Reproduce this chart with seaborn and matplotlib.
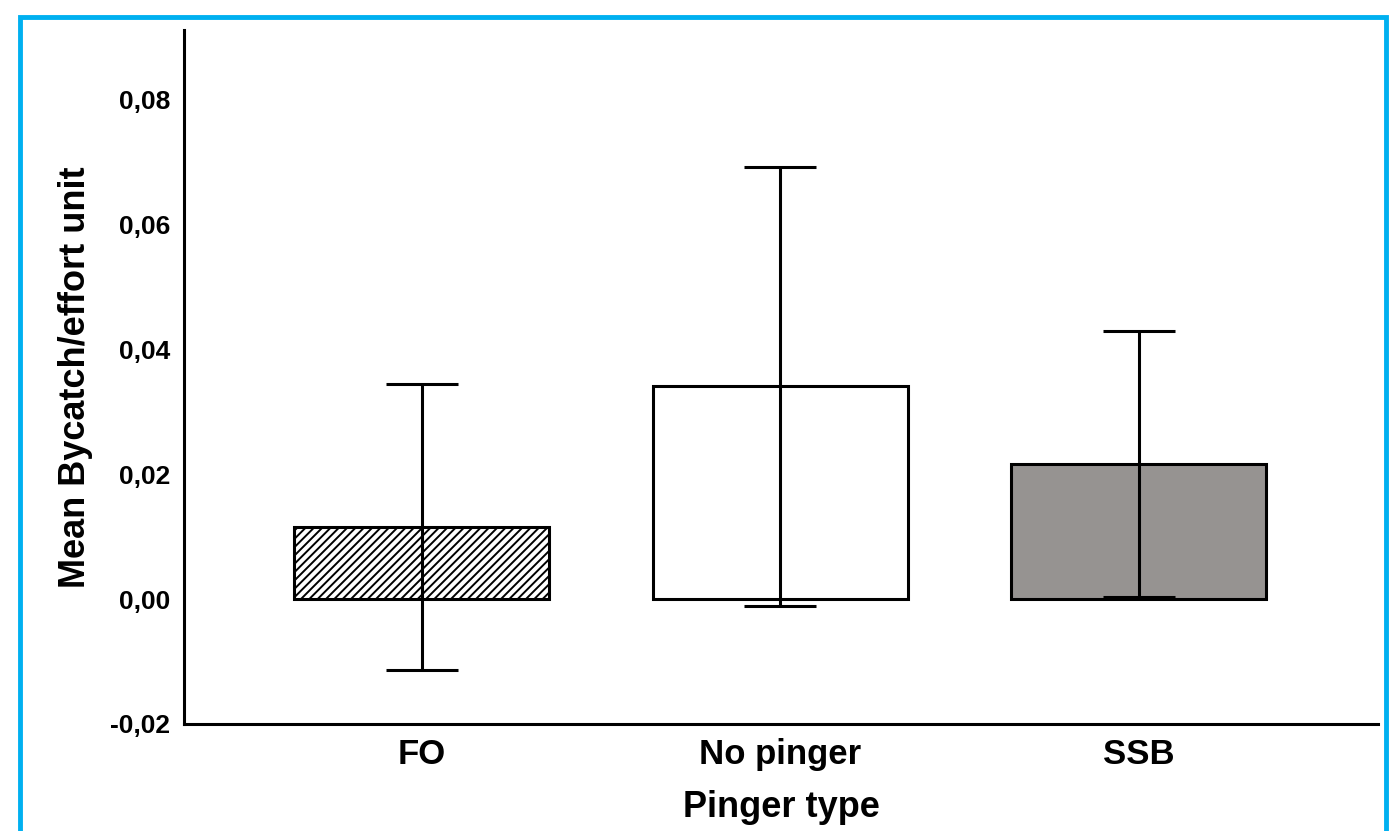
import matplotlib
matplotlib.use("Agg")
import matplotlib.pyplot as plt
import seaborn as sns
import pandas as pd
from matplotlib.patches import Rectangle
from matplotlib.ticker import FuncFormatter

# values
pinger_types = ["FO", "No pinger", "SSB"]
mean_bycatch = [0.0115, 0.0341, 0.0216]
ci_low = [-0.0114, -0.0011, 0.0003]
ci_high = [0.0345, 0.0693, 0.0430]
y_ticks = [-0.02, 0.0, 0.02, 0.04, 0.06, 0.08]

sns.set_style("white")
plt.rcParams["font.family"] = ["Liberation Sans", "DejaVu Sans"]
plt.rcParams["hatch.linewidth"] = 1.4
plt.rcParams["text.color"] = "black"
plt.rcParams["axes.labelcolor"] = "black"
plt.rcParams["xtick.color"] = "black"
plt.rcParams["ytick.color"] = "black"

df = pd.DataFrame({"Pinger type": pinger_types, "mean": mean_bycatch})

fig = plt.figure(figsize=(13.92, 8.31), dpi=100)
ax = fig.add_axes([0.1322, 0.1288, 0.99 - 0.1322, 0.9639 - 0.1288])

sns.barplot(data=df, x="Pinger type", y="mean", errorbar=None, width=0.711,
            color="white", edgecolor="black", linewidth=2.2, ax=ax)

bar_colors = ["white", "white", "#969391"]
bar_hatch = ["////", None, None]
for patch, c, h in zip(ax.patches, bar_colors, bar_hatch):
    patch.set_facecolor(c)
    if h:
        patch.set_hatch(h)

yerr = [[m - lo for m, lo in zip(mean_bycatch, ci_low)],
        [hi - m for m, hi in zip(mean_bycatch, ci_high)]]
ax.errorbar(range(len(pinger_types)), mean_bycatch, yerr=yerr, fmt="none",
            ecolor="black", elinewidth=2.2, capsize=25.6, capthick=2.2, zorder=5)

ax.set_xlim(-0.6625, 2.668)
ax.set_ylim(-0.02, 0.0912)
ax.set_yticks(y_ticks)
ax.yaxis.set_major_formatter(FuncFormatter(lambda v, p: f"{v:.2f}".replace(".", ",").replace("-0,00", "0,00")))
ax.tick_params(axis="y", labelsize=19, length=0, pad=10)
ax.tick_params(axis="x", labelsize=25, length=0, pad=10)
for lbl in ax.get_xticklabels() + ax.get_yticklabels():
    lbl.set_fontweight("bold")

ax.set_ylabel("Mean Bycatch/effort unit", fontsize=26, fontweight="bold", labelpad=12)
ax.set_xlabel("Pinger type", fontsize=26, fontweight="bold", labelpad=14)

sns.despine(ax=ax)
for side in ["left", "bottom"]:
    ax.spines[side].set_linewidth(2.2)
    ax.spines[side].set_color("black")

# cyan frame around the picture
fig.patches.append(Rectangle((20 / 1392, -0.05), 1366 / 1392, 0.05 + 1 - 17 / 831,
                             transform=fig.transFigure, fill=False,
                             edgecolor="#00B0F0", linewidth=3.5, zorder=10))

fig.savefig("out.png", dpi=100)
